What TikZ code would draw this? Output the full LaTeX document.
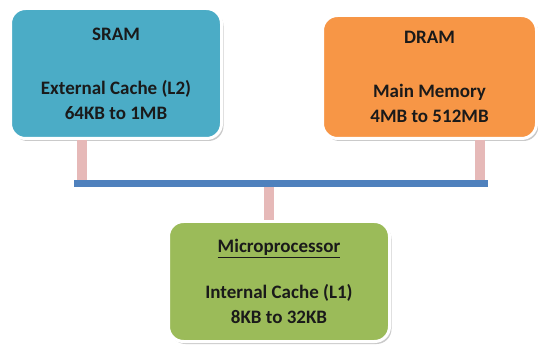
\documentclass[tikz,border=0pt]{standalone}
\usepackage{fontspec}
\setmainfont{Carlito}
\usetikzlibrary{shadows}
\definecolor{sramc}{HTML}{4BACC6}
\definecolor{dramc}{HTML}{F79646}
\definecolor{microc}{HTML}{9BBB59}
\definecolor{busc}{HTML}{4F81BD}
\definecolor{stubc}{HTML}{E6B9B8}
\definecolor{txtc}{HTML}{1A1A1A}
\tikzset{
  membox/.style={draw=white, line width=3pt, rounded corners=15pt, inner sep=0pt,
    align=center, text=txtc, font=\fontsize{19}{25}\selectfont\bfseries,
    drop shadow={shadow xshift=2pt, shadow yshift=-2.5pt, opacity=0.35, fill=black!60}},
  stubline/.style={draw=stubc, line width=10pt},
  busline/.style={draw=busc, line width=7pt}
}
\begin{document}
\begin{tikzpicture}[x=1pt, y=-1pt]
\useasboundingbox (0,0) rectangle (538,347);
\coordinate (j1) at (82,184);
\coordinate (j2) at (480,184);
\coordinate (j3) at (268.5,184);
\coordinate (busL) at (74,184);
\coordinate (busR) at (488,184);
\node[membox, fill=sramc, minimum width=211pt, minimum height=130pt] (sram) at (116,73.5)
  {SRAM\\[29pt]External Cache (L2)\\64KB to 1MB};
\node[membox, fill=dramc, minimum width=214pt, minimum height=123pt] (dram) at (429.5,77)
  {DRAM\\[29pt]Main Memory\\4MB to 512MB};
\node[membox, fill=microc, minimum width=221pt, minimum height=120pt] (micro) at (279,281.5)
  {\underline{Microprocessor}\\[21pt]Internal Cache (L1)\\8KB to 32KB};
\draw[stubline] (sram.south -| j1) -- (j1);
\draw[stubline] (dram.south -| j2) -- (j2);
\draw[stubline] (micro.north -| j3) -- (j3);
\draw[busline] (busL) -- (busR);
\end{tikzpicture}
\end{document}
